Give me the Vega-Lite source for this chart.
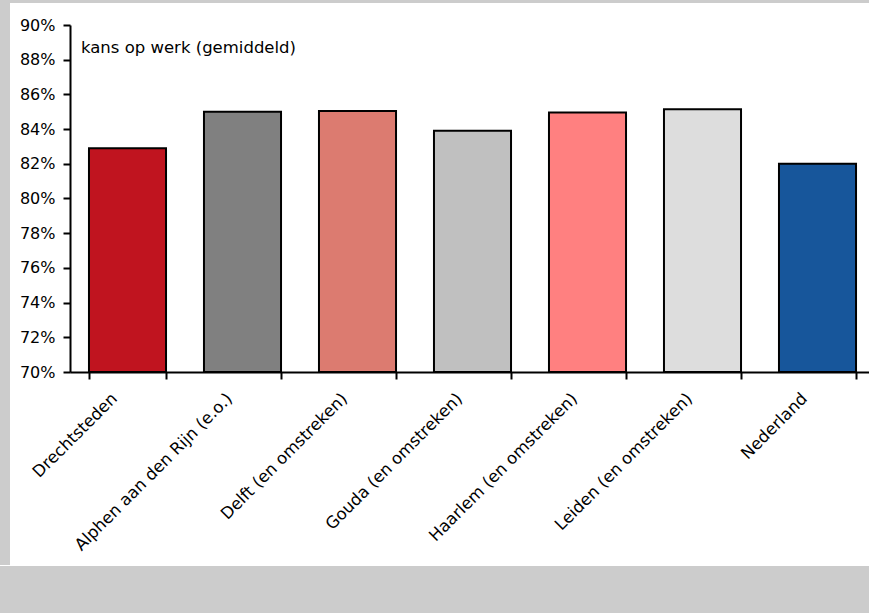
{
  "$schema": "https://vega.github.io/schema/vega-lite/v6.json",
  "background": "white",
  "padding": 0,
  "spacing": 0,
  "config": {"font": "DejaVu Sans", "view": {"stroke": null}},
  "datasets": {
    "d": [
      {"regio": "Drechtsteden", "kans": 0.829},
      {"regio": "Alphen aan den Rijn (e.o.)", "kans": 0.850},
      {"regio": "Delft (en omstreken)", "kans": 0.8505},
      {"regio": "Gouda (en omstreken)", "kans": 0.839},
      {"regio": "Haarlem (en omstreken)", "kans": 0.8495},
      {"regio": "Leiden (en omstreken)", "kans": 0.8515},
      {"regio": "Nederland", "kans": 0.820}
    ]
  },
  "vconcat": [
    {"width": 875, "height": 3, "data": {"values": []}, "mark": "text", "encoding": {}, "view": {"fill": "#cccccc", "stroke": null}},
    {
      "spacing": 0,
      "hconcat": [
        {"width": 10, "height": 562, "data": {"values": []}, "mark": "text", "encoding": {}, "view": {"fill": "#cccccc", "stroke": null}},
        {
          "spacing": 0,
          "vconcat": [
            {"width": 805, "height": 14, "data": {"values": []}, "mark": "text", "encoding": {}},
            {
              "width": 805,
              "height": 347,
              "layer": [
                {
                  "data": {"name": "d"},
                  "mark": {"type": "bar", "stroke": "black", "strokeWidth": 2},
                  "encoding": {
                    "x": {
                      "field": "regio", "type": "nominal", "sort": null,
                      "scale": {"paddingInner": 0.33, "paddingOuter": 0.165},
                      "axis": {
                        "title": null, "labelAngle": -45, "tickBand": "extent",
                        "domainColor": "black", "domainWidth": 2, "tickColor": "black", "tickWidth": 2, "tickSize": 7,
                        "labelFontSize": 16.5, "labelColor": "black", "labelPadding": 11, "labelOffset": -19, "labelLimit": 400,
                        "minExtent": 194, "maxExtent": 194
                      }
                    },
                    "y": {
                      "field": "kans", "type": "quantitative",
                      "scale": {"domain": [0.7, 0.9], "nice": false, "zero": false},
                      "axis": {
                        "title": null, "format": ".0%", "grid": false, "labelOverlap": false, "tickCount": 12,
                        "values": [0.7, 0.72, 0.74, 0.76, 0.78, 0.8, 0.82, 0.84, 0.86, 0.88, 0.9],
                        "domainColor": "black", "domainWidth": 2, "tickColor": "black", "tickWidth": 2, "tickSize": 7,
                        "labelFontSize": 16, "labelColor": "black", "labelPadding": 8,
                        "minExtent": 60, "maxExtent": 60
                      }
                    },
                    "y2": {"datum": 0.7},
                    "color": {
                      "field": "regio", "type": "nominal", "legend": null,
                      "scale": {
                        "domain": ["Drechtsteden", "Alphen aan den Rijn (e.o.)", "Delft (en omstreken)", "Gouda (en omstreken)", "Haarlem (en omstreken)", "Leiden (en omstreken)", "Nederland"],
                        "range": ["#c0141f", "#808080", "#dc7b70", "#c0c0c0", "#ff8080", "#dddddd", "#17569b"]
                      }
                    }
                  }
                },
                {
                  "data": {"values": [{}]},
                  "mark": {"type": "text", "align": "left", "baseline": "middle", "dx": -8, "fontSize": 16.5, "color": "black"},
                  "encoding": {
                    "x": {"datum": "Drechtsteden", "bandPosition": 0},
                    "y": {"datum": 0.887},
                    "text": {"value": "kans op werk (gemiddeld)"}
                  }
                }
              ]
            }
          ]
        }
      ]
    },
    {"width": 875, "height": 48, "data": {"values": []}, "mark": "text", "encoding": {}, "view": {"fill": "#cccccc", "stroke": null}}
  ]
}
